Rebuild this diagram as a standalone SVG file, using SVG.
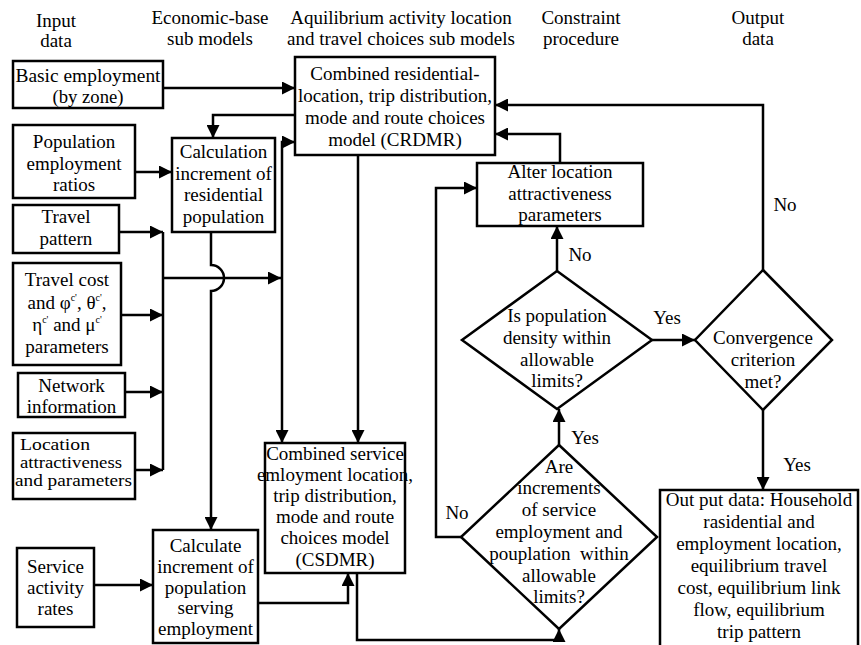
<svg xmlns="http://www.w3.org/2000/svg" width="861" height="645" viewBox="0 0 861 645" font-family="Liberation Serif, DejaVu Serif, serif">
<style>
text{font-family:'Liberation Serif','DejaVu Serif',serif;font-size:19px;fill:#000}
.c{text-anchor:middle}
.box{fill:#fff;stroke:#000;stroke-width:2.5}
.ln{fill:none;stroke:#000;stroke-width:2.5}
.ar{fill:none;stroke:#000;stroke-width:2.5;marker-end:url(#ah)}
.sup{font-size:10px}
.sm{font-size:16px}
.md{font-size:18px}
</style>
<defs>
<marker id="ah" markerUnits="userSpaceOnUse" markerWidth="13" markerHeight="13" refX="12" refY="6" orient="auto" viewBox="0 0 12 12">
<path d="M0,0 L12,6 L0,12 z" fill="#000"/>
</marker>
</defs>
<rect width="861" height="645" fill="#fff"/>
<g id="headers">
<text class="c" x="56" y="27">Input</text>
<text class="c" x="56" y="47">data</text>
<text class="c" x="210" y="24">Economic-base</text>
<text class="c" x="210" y="45">sub models</text>
<text class="c" x="401" y="24">Aquilibrium activity location</text>
<text class="c" x="401" y="45">and travel choices sub models</text>
<text class="c" x="581" y="24">Constraint</text>
<text class="c" x="581" y="45">procedure</text>
<text class="c" x="758" y="24">Output</text>
<text class="c" x="758" y="45">data</text>
</g>
<g id="connectors">
<path class="ar" d="M163,88 H295"/>
<path class="ar" d="M295,115 H213 V138"/>
<path class="ln" d="M163,232 V470"/>
<path class="ar" d="M119,232 H163"/>
<path class="ar" d="M121,315 H163"/>
<path class="ar" d="M125,392 H163"/>
<path class="ar" d="M135,470 H163"/>
<path class="ar" d="M135,172 H172"/>
<path class="ar" d="M163,278 H281"/>
<path class="ar" d="M282,278 V142 H295"/>
<path class="ar" d="M282,278 V443"/>
<path class="ar" d="M211,232 V265 A13,13 0 0 1 211,291 V530"/>
<path class="ar" d="M94,585 H153"/>
<path class="ar" d="M358,155 V443"/>
<path class="ar" d="M258,603 H348 V573"/>
<path class="ar" d="M357,573 V640 H559 V629"/>
<path class="ar" d="M559,445 V409"/>
<path class="ar" d="M461,537 H436 V188 H477"/>
<path class="ar" d="M557,271 V226"/>
<path class="ar" d="M560,163 V134 H495"/>
<path class="ar" d="M652,340 H695"/>
<path class="ar" d="M763,270 V105 H495"/>
<path class="ar" d="M763,410 V490"/>
<text class="c" x="580" y="261">No</text>
<text class="c" x="667" y="324">Yes</text>
<text class="c" x="785" y="211">No</text>
<text class="c" x="585" y="444">Yes</text>
<text class="c" x="457" y="519">No</text>
<text class="c" x="797" y="471">Yes</text>
</g>
<g id="basic-employment">
<rect class="box" x="13" y="61" width="150" height="47"/>
<text class="c md" x="88" y="82" textLength="145" lengthAdjust="spacingAndGlyphs">Basic employment</text>
<text class="c md" x="88" y="103" textLength="71" lengthAdjust="spacingAndGlyphs">(by zone)</text>
</g>
<g id="population-ratios">
<rect class="box" x="13" y="125" width="122" height="73"/>
<text class="c" x="74" y="148">Population</text>
<text class="c" x="74" y="170">employment</text>
<text class="c" x="74" y="191">ratios</text>
</g>
<g id="travel-pattern">
<rect class="box" x="13" y="205" width="106" height="48"/>
<text class="c" x="66" y="223">Travel</text>
<text class="c" x="66" y="245">pattern</text>
</g>
<g id="travel-cost">
<rect class="box" x="13" y="263" width="108" height="102"/>
<text class="c" x="67" y="286">Travel cost</text>
<text class="c" x="67" y="309">and φ<tspan class="sup" dy="-8">c'</tspan><tspan dy="8">, θ</tspan><tspan class="sup" dy="-8">c'</tspan><tspan dy="8">,</tspan></text>
<text class="c" x="67" y="331">η<tspan class="sup" dy="-8">c'</tspan><tspan dy="8"> and  μ</tspan><tspan class="sup" dy="-8">c'</tspan></text>
<text class="c" x="67" y="353">parameters</text>
</g>
<g id="network-information">
<rect class="box" x="18" y="373" width="107" height="44"/>
<text class="c" x="71.5" y="392">Network</text>
<text class="c" x="71.5" y="413">information</text>
</g>
<g id="location-attractiveness">
<rect class="box" x="13" y="433" width="122" height="66"/>
<text class="sm" x="20" y="450" textLength="70" lengthAdjust="spacingAndGlyphs">Location</text>
<text class="sm" x="20" y="468" textLength="102" lengthAdjust="spacingAndGlyphs">attractiveness</text>
<text class="sm" x="15" y="486" textLength="117" lengthAdjust="spacingAndGlyphs">and parameters</text>
</g>
<g id="service-activity">
<rect class="box" x="17" y="548" width="77" height="79"/>
<text class="c" x="55.5" y="573">Service</text>
<text class="c" x="55.5" y="594">activity</text>
<text class="c" x="55.5" y="615">rates</text>
</g>
<g id="calc-residential">
<rect class="box" x="172" y="138" width="103" height="94"/>
<text class="c" x="223.5" y="158">Calculation</text>
<text class="c" x="223.5" y="180">increment of</text>
<text class="c" x="223.5" y="201">residential</text>
<text class="c" x="223.5" y="223">population</text>
</g>
<g id="calc-service">
<rect class="box" x="153" y="530" width="105" height="113"/>
<text class="c" x="205.5" y="552">Calculate</text>
<text class="c" x="205.5" y="573">increment of</text>
<text class="c" x="205.5" y="594">population</text>
<text class="c" x="205.5" y="614">serving</text>
<text class="c" x="205.5" y="635">employment</text>
</g>
<g id="crdmr">
<rect class="box" x="295" y="57" width="200" height="98"/>
<text class="c" x="395" y="80">Combined residential-</text>
<text class="c" x="395" y="102">location, trip distribution,</text>
<text class="c" x="395" y="124">mode and route choices</text>
<text class="c" x="395" y="146">model (CRDMR)</text>
</g>
<g id="csdmr">
<rect class="box" x="265" y="443" width="140" height="130"/>
<text class="c" x="335" y="460">Combined service</text>
<text class="c" x="335" y="481">emloyment location,</text>
<text class="c" x="335" y="502">trip distribution,</text>
<text class="c" x="335" y="523">mode and route</text>
<text class="c" x="335" y="544">choices model</text>
<text class="c" x="335" y="566">(CSDMR)</text>
</g>
<g id="alter-location">
<rect class="box" x="477" y="163" width="166" height="63"/>
<text class="c" x="560" y="178">Alter location</text>
<text class="c" x="560" y="200">attractiveness</text>
<text class="c" x="560" y="221">parameters</text>
</g>
<g id="density-check">
<polygon class="box" points="557,271 652,340 557,409 462,340"/>
<text class="c" x="557" y="322">Is population</text>
<text class="c" x="557" y="344">density within</text>
<text class="c" x="557" y="366">allowable</text>
<text class="c" x="557" y="387">limits?</text>
</g>
<g id="increments-check">
<polygon class="box" points="559,445 657,537 559,629 461,537"/>
<text class="c" x="559" y="473">Are</text>
<text class="c" x="559" y="494">increments</text>
<text class="c" x="559" y="516">of service</text>
<text class="c" x="559" y="538">employment and</text>
<text class="c" x="559" y="560" xml:space="preserve">pouplation  within</text>
<text class="c" x="559" y="582">allowable</text>
<text class="c" x="559" y="603">limits?</text>
</g>
<g id="convergence">
<polygon class="box" points="763,270 832,340 763,410 695,340"/>
<text class="c" x="763" y="344">Convergence</text>
<text class="c" x="763" y="366">criterion</text>
<text class="c" x="763" y="388">met?</text>
</g>
<g id="output-data">
<rect class="box" x="660" y="490" width="198" height="165"/>
<text class="c" x="759" y="506">Out put data: Household</text>
<text class="c" x="759" y="528">rasidential and</text>
<text class="c" x="759" y="550">employment location,</text>
<text class="c" x="759" y="572">equilibrium travel</text>
<text class="c" x="759" y="594">cost, equilibrium link</text>
<text class="c" x="759" y="616">flow, equilibrium</text>
<text class="c" x="759" y="638">trip pattern</text>
</g>
</svg>
